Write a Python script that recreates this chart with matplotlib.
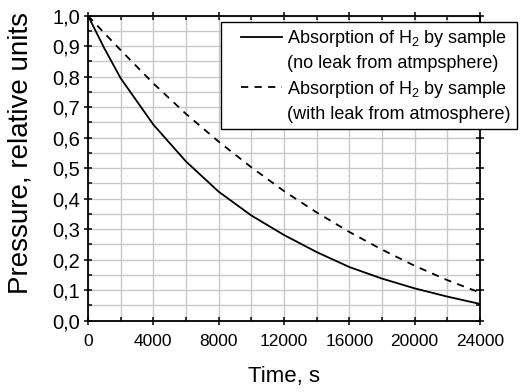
import matplotlib
matplotlib.use('Agg')
import matplotlib.pyplot as plt
from matplotlib.lines import Line2D
from matplotlib.legend_handler import HandlerLine2D
from matplotlib.ticker import MultipleLocator, FuncFormatter

plt.rcParams['font.family'] = 'Liberation Sans'
plt.rcParams['mathtext.fontset'] = 'custom'
plt.rcParams['mathtext.rm'] = 'Liberation Sans'
plt.rcParams['mathtext.it'] = 'Liberation Sans:italic'

# values
time_s = [0, 1000, 2000, 4000, 6000, 8000, 10000, 12000, 14000, 16000, 18000, 20000, 22000, 24000]
p_no_leak = [1.0, 0.893, 0.795, 0.643, 0.522, 0.423, 0.345, 0.281, 0.225, 0.176, 0.138, 0.106, 0.079, 0.055]
p_with_leak = [1.0, 0.943, 0.887, 0.778, 0.678, 0.587, 0.503, 0.425, 0.355, 0.291, 0.233, 0.180, 0.133, 0.092]

label_no_leak = ['Absorption of H$_2$ by sample', '(no leak from atmpsphere)']
label_with_leak = ['Absorption of H$_2$ by sample', '(with leak from atmosphere)']

fig = plt.figure(figsize=(5.25, 3.92), dpi=100)
ax = fig.add_axes([88 / 525, 71.3 / 392, 392 / 525, 305 / 392])

ax.plot(time_s, p_no_leak, color='black', lw=1.3)
ax.plot(time_s, p_with_leak, color='black', lw=1.3, ls=(0, (4, 3.5)))

ax.set_xlim(0, 24000)
ax.set_ylim(0, 1.0)
ax.xaxis.set_major_locator(MultipleLocator(4000))
ax.xaxis.set_minor_locator(MultipleLocator(2000))
ax.yaxis.set_major_locator(MultipleLocator(0.1))
ax.yaxis.set_minor_locator(MultipleLocator(0.05))
ax.yaxis.set_major_formatter(FuncFormatter(lambda v, pos: f'{v:.1f}'.replace('.', ',')))

ax.grid(True, which='both', color='#c8c8c8', lw=1.0)
ax.set_axisbelow(True)
for s in ax.spines.values():
    s.set_linewidth(1.3)

ax.tick_params(which='major', direction='inout', length=6, width=1.1, top=True, right=True)
ax.tick_params(which='minor', direction='in', length=3, width=1.1, top=True, right=True)
ax.tick_params(axis='x', which='major', labelsize=12.5, pad=6.5)
ax.tick_params(axis='y', which='major', labelsize=14.5, pad=2.5)

ax.set_xlabel('Time, s', fontsize=16)
ax.set_ylabel('Pressure, relative units', fontsize=20)
ax.xaxis.set_label_coords(0.5, -0.148)
ax.yaxis.set_label_coords(-0.140, 0.55)

blank = Line2D([], [], color='none')
handles = [Line2D([], [], color='black', lw=1.3), blank,
           Line2D([], [], color='black', lw=1.3, ls=(0, (4, 3.5))), blank]
labels = [label_no_leak[0], label_no_leak[1], label_with_leak[0], label_with_leak[1]]
leg = fig.legend(handles, labels, loc='upper left', bbox_to_anchor=(221 / 525, 1 - 22 / 392),
                 fontsize=13, frameon=True, fancybox=False, framealpha=1,
                 edgecolor='black', handlelength=3.05, handletextpad=0.28,
                 borderpad=0.35, labelspacing=0.34, borderaxespad=0,
                 handler_map={Line2D: HandlerLine2D(xpad=0.77)})
leg.get_frame().set_linewidth(1.0)

fig.savefig('out.png', dpi=100)
